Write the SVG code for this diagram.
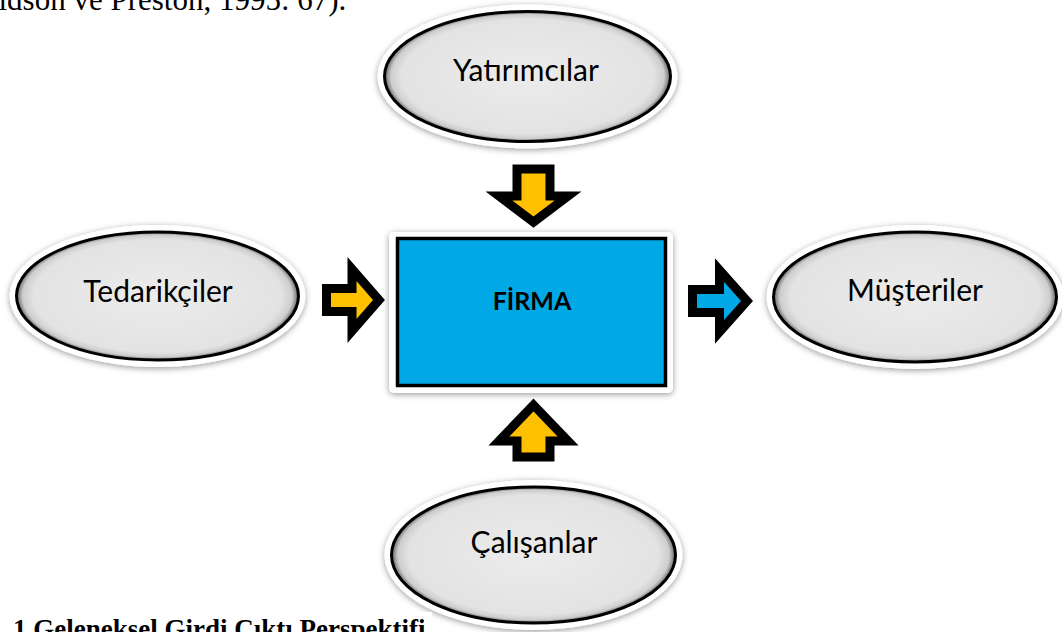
<svg xmlns="http://www.w3.org/2000/svg" width="1062" height="632" viewBox="0 0 1062 632">
  <style>
    .halo{fill:#ffffff;filter:url(#soft)}
    .oval{fill:url(#ovalFill);stroke:#000;stroke-width:3}
    .lbl{font-family:Lato,"Open Sans","Liberation Sans",sans-serif;font-size:30px;fill:#000;text-anchor:middle}
    .arr{stroke:#000;stroke-width:9;stroke-linejoin:miter;stroke-miterlimit:10}
    .inflow{fill:#FFC000}
    .outflow{fill:#00A9E6}
    .body{font-family:"Liberation Serif","Times New Roman",serif;fill:#000}
  </style>
  <defs>
    <filter id="soft" x="-10%" y="-15%" width="120%" height="130%">
      <feDropShadow dx="0" dy="1.5" stdDeviation="3" flood-color="#000" flood-opacity="0.4"/>
    </filter>
    <radialGradient id="ovalFill" cx="0.5" cy="0.5" r="0.5">
      <stop offset="0" stop-color="#ECECEC"/>
      <stop offset="0.88" stop-color="#E3E3E3"/>
      <stop offset="0.955" stop-color="#CDCDCD"/>
      <stop offset="0.99" stop-color="#7A7A7A"/>
      <stop offset="1" stop-color="#333"/>
    </radialGradient>
  </defs>

  <!-- running text above -->
  <text class="body" x="-1.5" y="10" font-size="31">ldson ve Preston, 1995: 67).</text>

  <!-- stakeholders -->
  <g id="yatirimcilar">
    <ellipse class="halo" cx="527.5" cy="76.5" rx="150" ry="72"/>
    <ellipse class="oval" cx="527.5" cy="76.5" rx="143" ry="65"/>
    <text class="lbl" x="526" y="81">Yatırımcılar</text>
  </g>
  <g id="tedarikciler">
    <ellipse class="halo" cx="157.5" cy="296" rx="148" ry="71"/>
    <ellipse class="oval" cx="157.5" cy="296" rx="141" ry="64"/>
    <text class="lbl" x="158" y="302">Tedarikçiler</text>
  </g>
  <g id="musteriler">
    <ellipse class="halo" cx="915" cy="297" rx="148.5" ry="72"/>
    <ellipse class="oval" cx="915" cy="297" rx="141.5" ry="65"/>
    <text class="lbl" x="915" y="301">Müşteriler</text>
  </g>
  <g id="calisanlar">
    <ellipse class="halo" cx="533.5" cy="555" rx="149" ry="75"/>
    <ellipse class="oval" cx="533.5" cy="555" rx="142" ry="68"/>
    <text class="lbl" x="534" y="553">Çalışanlar</text>
  </g>

  <!-- the firm -->
  <g id="firma">
    <rect class="halo" x="389" y="232" width="284" height="161" rx="5"/>
    <rect x="397.5" y="238.5" width="268" height="147" fill="#00A9E6" stroke="#000" stroke-width="3.5"/>
    <text x="532" y="310" text-anchor="middle" font-family="Lato,'Open Sans','Liberation Sans',sans-serif" font-size="25" font-weight="bold" fill="#000">FİRMA</text>
  </g>

  <!-- flows into and out of the firm -->
  <g id="connectors">
    <polygon class="arr inflow" points="517,169 550,169 550,196 568,196 533.5,222 499,196 517,196"/>
    <polygon class="arr inflow" points="533.5,405 568,441 550,441 550,457 517,457 517,441 499,441"/>
    <polygon class="arr inflow" points="326.5,288.5 352,288.5 352,269 379,300 352,331 352,311.5 326.5,311.5"/>
    <polygon class="arr outflow" points="692.5,289.5 719.5,289.5 719.5,270 747,301 719.5,332 719.5,312.5 692.5,312.5"/>
  </g>

  <!-- caption strip -->
  <rect x="0" y="612" width="432" height="20" fill="#fff"/>
  <text class="body" x="13" y="638" font-size="27" font-weight="bold">1 Geleneksel Girdi Çıktı Perspektifi</text>
</svg>
